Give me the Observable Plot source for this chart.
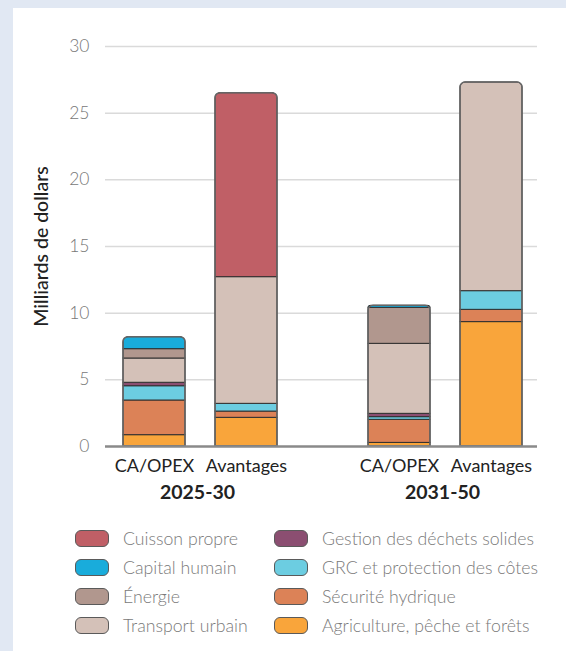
<!DOCTYPE html>
<html><head><meta charset="utf-8">
<script src="https://cdn.jsdelivr.net/npm/d3@7"></script>
<script src="https://cdn.jsdelivr.net/npm/@observablehq/plot@0.6"></script>
<style>
html,body{margin:0;padding:0;}
body{width:566px;height:651px;background:#e1e8f3;position:relative;overflow:hidden;font-family:Lato,"Open Sans",sans-serif;}
#panel{position:absolute;left:13px;top:8px;width:553px;height:643px;background:#fff;}
.layer{position:absolute;left:0;top:0;}
.sw{position:absolute;width:32px;height:15px;border:1.5px solid #5a5a5a;border-radius:6px;}
.lb{position:absolute;font-size:17.7px;color:#7a7a7a;line-height:20px;white-space:nowrap;font-weight:300;}
</style></head>
<body>
<div id="panel"></div>
<div id="bg" class="layer"></div>
<div id="bars" class="layer"></div>
<div id="top" class="layer"></div>
<div id="legend"></div>
<script>
const periods = ["2025-30", "2031-50"];
const types = ["CA/OPEX", "Avantages"];
const sectors = ["Agriculture, pêche et forêts","Sécurité hydrique","GRC et protection des côtes","Gestion des déchets solides","Transport urbain","Énergie","Capital humain","Cuisson propre"];
const colors = ["#f9a53b","#dc8257","#6ccde1","#8b4e71","#d4c1b8","#b1978e","#19acdb","#c05f66"];
// values per bar, in stacking order (sectors)
const caopex2025 = [0.85, 2.6, 1.07, 0.26, 1.82, 0.7, 0.9, 0];
const avantages2025 = [2.15, 0.47, 0.58, 0, 9.5, 0, 0, 13.8];
const caopex2031 = [0.27, 1.73, 0.2, 0.25, 5.25, 2.7, 0.15, 0];
const avantages2031 = [9.33, 0.92, 1.4, 0, 15.65, 0, 0, 0];
const yTicks = [0, 5, 10, 15, 20, 25, 30];

const bars = [
  {period: periods[0], type: types[0], values: caopex2025},
  {period: periods[0], type: types[1], values: avantages2025},
  {period: periods[1], type: types[0], values: caopex2031},
  {period: periods[1], type: types[1], values: avantages2031}
];
const rows = [];
const totals = [];
for (const b of bars) {
  let acc = 0;
  const lastIdx = b.values.reduce((m, v, i) => v > 0 ? i : m, -1);
  b.values.forEach((v, i) => {
    if (v > 0) {
      rows.push({period: b.period, type: b.type, sector: sectors[i], y1: acc, y2: acc + v, top: i === lastIdx});
      acc += v;
    }
  });
  totals.push({period: b.period, type: b.type, total: acc});
}
const labelRows = bars.map(b => ({period: b.period, type: b.type}));

const common = {
  width: 566, height: 515,
  marginTop: 46, marginBottom: 69, marginLeft: 105, marginRight: 29,
  style: {fontFamily: "Lato, 'Open Sans', sans-serif", background: "transparent", overflow: "visible"},
  y: {domain: [0, 30], axis: null}
};

// background layer: grid, tick labels, axis title
const bg = Plot.plot({
  ...common,
  marks: [
    Plot.ruleY(yTicks.filter(d => d > 0), {stroke: "#dadada", strokeWidth: 1.5}),
    Plot.text(yTicks, {y: d => d, text: d => String(d), frameAnchor: "left", dx: -16, textAnchor: "end", fill: "#777", fontSize: 17.5, fontWeight: 300}),
    Plot.text(["Milliards de dollars"], {frameAnchor: "left", dx: -64, rotate: -90, textAnchor: "middle", fontSize: 19.5, fontWeight: 500, fill: "#222"})
  ]
});
document.getElementById("bg").appendChild(bg);

// bars layer
const chart = Plot.plot({
  ...common,
  fx: {domain: periods, range: [101, 543], paddingInner: 0.2, paddingOuter: 0, axis: null},
  x: {domain: types, paddingInner: 0.33, paddingOuter: 0.226, axis: null},
  color: {domain: sectors, range: colors},
  marks: [
    Plot.barY(rows.filter(d => !d.top), {fx: "period", x: "type", y1: "y1", y2: "y2", fill: "sector", stroke: "#2f2f2f", strokeWidth: 1}),
    Plot.barY(rows.filter(d => d.top), {fx: "period", x: "type", y1: "y1", y2: "y2", fill: "sector", stroke: "#2f2f2f", strokeWidth: 1, ry1: 5}),
    Plot.barY(totals, {fx: "period", x: "type", y1: 0, y2: "total", fill: "none", stroke: "#666", strokeWidth: 1.5, ry1: 5}),
    Plot.text(labelRows, {fx: "period", x: "type", text: "type", frameAnchor: "bottom", dy: 25, fontSize: 18, fill: "#222"}),
    Plot.text(periods, {fx: d => d, text: d => d, frameAnchor: "bottom", dy: 52, fontSize: 19.5, fontWeight: 700, fill: "#222", dx: -3})
  ]
});
document.getElementById("bars").appendChild(chart);

// top layer: zero baseline
const topLayer = Plot.plot({
  ...common,
  marks: [Plot.ruleY([0], {stroke: "#8a8a8a", strokeWidth: 2.5})]
});
document.getElementById("top").appendChild(topLayer);

// legend: reversed stack order, column-major, two columns of four
const legend = document.getElementById("legend");
const legendOrder = sectors.map((s, i) => i).reverse();
legendOrder.forEach((idx, k) => {
  const col = Math.floor(k / 4), row = k % 4;
  const sx = col === 0 ? 75 : 274;
  const tx = col === 0 ? 123 : 322;
  const cy = 539 + row * 29;
  const sw = document.createElement("div");
  sw.className = "sw";
  sw.style.left = sx + "px";
  sw.style.top = (cy - 9) + "px";
  sw.style.background = colors[idx];
  legend.appendChild(sw);
  const lb = document.createElement("div");
  lb.className = "lb";
  lb.style.left = tx + "px";
  lb.style.top = (cy - 10) + "px";
  lb.textContent = sectors[idx];
  legend.appendChild(lb);
});
</script>
</body></html>
